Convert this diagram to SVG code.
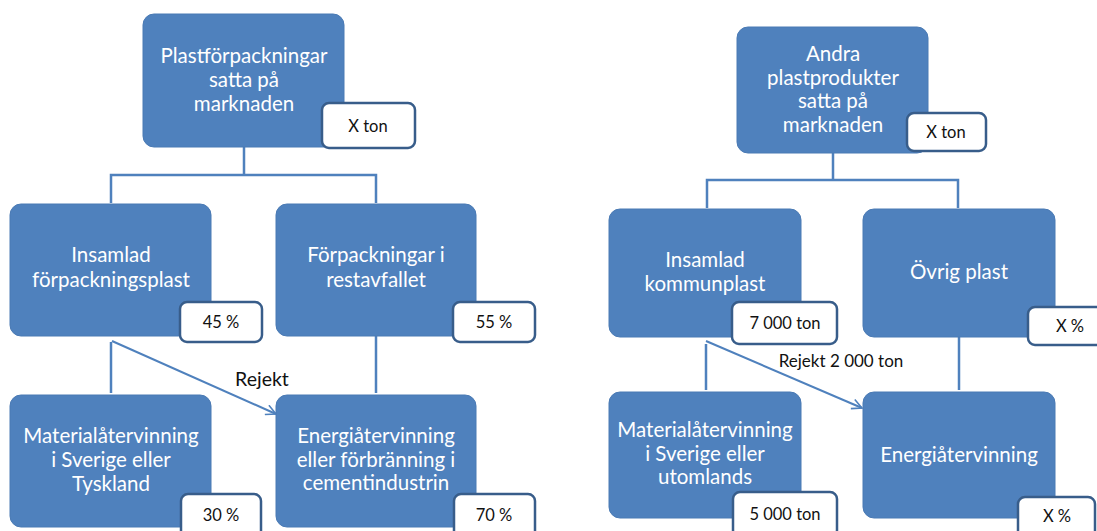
<svg xmlns="http://www.w3.org/2000/svg" width="1097" height="531" viewBox="0 0 1097 531">
  <style>
    .box { fill: #4f81bd; stroke: #4a7ab4; stroke-width: 1; }
    .tag { fill: #ffffff; stroke: #385d8a; stroke-width: 2.5; }
    .lbl { font-family: Lato, "Liberation Sans", sans-serif; font-size: 20.5px; fill: #ffffff; text-anchor: middle; }
    .val { font-family: Lato, "Liberation Sans", sans-serif; font-size: 16.5px; fill: #111111; text-anchor: middle; }
    .note { font-family: Lato, "Liberation Sans", sans-serif; fill: #111111; text-anchor: middle; }
    .wire { fill: none; stroke: #4f81bd; stroke-width: 2.5; }
    .flow { fill: none; stroke: #4f81bd; stroke-width: 2; }
  </style>
  <defs>
    <marker id="open-arrow" viewBox="0 0 12 12" refX="11" refY="6" markerWidth="12" markerHeight="12" markerUnits="userSpaceOnUse" orient="auto">
      <path d="M1,1 L11,6 L1,11" fill="none" stroke="#4f81bd" stroke-width="1.6"/>
    </marker>
  </defs>

  <rect width="1097" height="531" fill="#ffffff"/>

  <!-- connectors -->
  <g id="connectors">
    <!-- left tree -->
    <path class="wire" d="M244,147 V175 M111,203 V175 H376 V203"/>
    <path class="wire" d="M111,342 V393"/>
    <path class="wire" d="M376,336 V393"/>
    <path class="flow" d="M112,341 L276,414" marker-end="url(#open-arrow)"/>
    <text class="note" x="262" y="386" font-size="19.5">Rejekt</text>
    <!-- right tree -->
    <path class="wire" d="M833,153 V180 M707,208 V180 H958 V208"/>
    <path class="wire" d="M706,344 V390"/>
    <path class="wire" d="M959,337 V390"/>
    <path class="flow" d="M706,341 L862,408" marker-end="url(#open-arrow)"/>
    <text class="note" x="841" y="367" font-size="17">Rejekt 2 000 ton</text>
  </g>

  <!-- left tree nodes -->
  <g id="plastforpackningar">
    <rect class="box" x="143" y="14" width="201" height="133" rx="11"/>
    <text class="lbl" x="244" y="63">Plastförpackningar</text>
    <text class="lbl" x="244" y="87">satta på</text>
    <text class="lbl" x="244" y="111">marknaden</text>
    <rect class="tag" x="322" y="103" width="93" height="45" rx="7"/>
    <text class="val" x="368" y="132">X ton</text>
  </g>

  <g id="insamlad-forpackningsplast">
    <rect class="box" x="10" y="204" width="201" height="132" rx="11"/>
    <text class="lbl" x="111" y="262">Insamlad</text>
    <text class="lbl" x="111" y="287">förpackningsplast</text>
    <rect class="tag" x="180" y="302" width="82" height="40" rx="7"/>
    <text class="val" x="221" y="328">45 %</text>
  </g>

  <g id="forpackningar-restavfallet">
    <rect class="box" x="276" y="204" width="200" height="132" rx="11"/>
    <text class="lbl" x="376" y="262">Förpackningar i</text>
    <text class="lbl" x="376" y="287">restavfallet</text>
    <rect class="tag" x="453" y="302" width="82" height="40" rx="7"/>
    <text class="val" x="494" y="328">55 %</text>
  </g>

  <g id="materialatervinning-tyskland">
    <rect class="box" x="10" y="395" width="201" height="132" rx="11"/>
    <text class="lbl" x="111" y="443">Materialåtervinning</text>
    <text class="lbl" x="111" y="467">i Sverige eller</text>
    <text class="lbl" x="111" y="491">Tyskland</text>
    <rect class="tag" x="181" y="494" width="80" height="45" rx="7"/>
    <text class="val" x="221" y="521">30 %</text>
  </g>

  <g id="energiatervinning-cement">
    <rect class="box" x="276" y="395" width="200" height="132" rx="11"/>
    <text class="lbl" x="376" y="443">Energiåtervinning</text>
    <text class="lbl" x="376" y="467">eller förbränning i</text>
    <text class="lbl" x="376" y="490">cementindustrin</text>
    <rect class="tag" x="454" y="494" width="81" height="45" rx="7"/>
    <text class="val" x="494" y="521">70 %</text>
  </g>

  <!-- right tree nodes -->
  <g id="andra-plastprodukter">
    <rect class="box" x="737" y="27" width="191" height="126" rx="11"/>
    <text class="lbl" x="833" y="61">Andra</text>
    <text class="lbl" x="833" y="85">plastprodukter</text>
    <text class="lbl" x="833" y="108">satta på</text>
    <text class="lbl" x="833" y="132">marknaden</text>
    <rect class="tag" x="907" y="113" width="79" height="38" rx="7"/>
    <text class="val" x="946" y="138">X ton</text>
  </g>

  <g id="insamlad-kommunplast">
    <rect class="box" x="609" y="209" width="192" height="128" rx="11"/>
    <text class="lbl" x="705" y="267">Insamlad</text>
    <text class="lbl" x="705" y="291">kommunplast</text>
    <rect class="tag" x="732" y="302" width="105" height="42" rx="7"/>
    <text class="val" x="785" y="329">7 000 ton</text>
  </g>

  <g id="ovrig-plast">
    <rect class="box" x="863" y="209" width="192" height="128" rx="11"/>
    <text class="lbl" x="959" y="279">Övrig plast</text>
    <rect class="tag" x="1028" y="307" width="80" height="38" rx="7"/>
    <text class="val" x="1070" y="332">X %</text>
  </g>

  <g id="materialatervinning-utomlands">
    <rect class="box" x="609" y="392" width="192" height="126" rx="11"/>
    <text class="lbl" x="705" y="437">Materialåtervinning</text>
    <text class="lbl" x="705" y="461">i Sverige eller</text>
    <text class="lbl" x="705" y="484">utomlands</text>
    <rect class="tag" x="733" y="492" width="104" height="45" rx="7"/>
    <text class="val" x="785" y="520">5 000 ton</text>
  </g>

  <g id="energiatervinning">
    <rect class="box" x="863" y="392" width="192" height="126" rx="11"/>
    <text class="lbl" x="959" y="462">Energiåtervinning</text>
    <rect class="tag" x="1018" y="497" width="77" height="42" rx="7"/>
    <text class="val" x="1057" y="522">X %</text>
  </g>
</svg>
